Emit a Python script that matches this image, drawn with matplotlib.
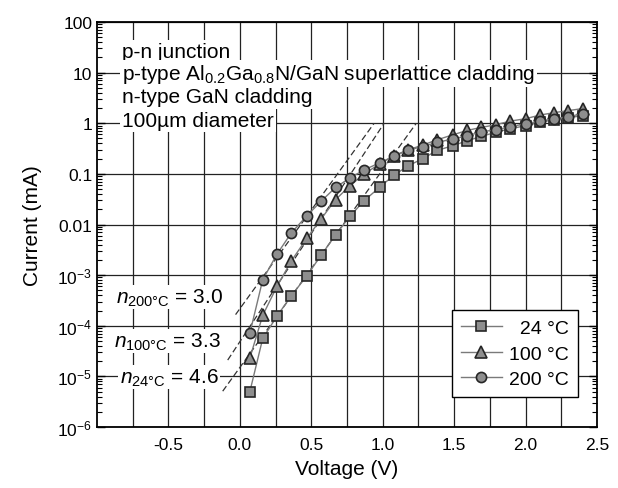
import numpy as np
import matplotlib
matplotlib.use("Agg")
import matplotlib.pyplot as plt
from matplotlib.ticker import FixedLocator, FixedFormatter, LogLocator, NullFormatter

plt.rcParams['font.family'] = ['Liberation Sans', 'DejaVu Sans']
plt.rcParams['mathtext.fontset'] = 'custom'
plt.rcParams['mathtext.rm'] = 'Liberation Sans'
plt.rcParams['mathtext.it'] = 'Liberation Sans:italic'

# data (voltage in V, current in mA)
voltage = [0.07, 0.16, 0.26, 0.36, 0.47, 0.57, 0.67, 0.77, 0.87, 0.98, 1.08, 1.18,
           1.28, 1.38, 1.49, 1.59, 1.69, 1.79, 1.89, 2.0, 2.1, 2.2, 2.3, 2.4]
i_24 = [5.0e-6, 5.6e-5, 1.55e-4, 3.9e-4, 9.8e-4, 2.5e-3, 6.2e-3, 1.45e-2, 2.95e-2, 5.5e-2,
        9.5e-2, 0.145, 0.20, 0.29, 0.36, 0.45, 0.55, 0.66, 0.78, 0.89, 1.05, 1.17, 1.29, 1.41]
i_100 = [2.3e-5, 1.6e-4, 6.0e-4, 1.9e-3, 5.4e-3, 1.3e-2, 3.1e-2, 5.8e-2, 0.10, 0.158,
         0.23, 0.30, 0.37, 0.47, 0.59, 0.72, 0.83, 0.93, 1.10, 1.23, 1.45, 1.62, 1.78, 1.95]
i_200 = [7.1e-5, 8.1e-4, 2.6e-3, 6.8e-3, 1.5e-2, 2.9e-2, 5.4e-2, 8.3e-2, 0.12, 0.166,
         0.224, 0.295, 0.347, 0.417, 0.49, 0.56, 0.68, 0.74, 0.85, 0.98, 1.10, 1.23, 1.35, 1.55]

# dashed ideality-factor fits (end points)
fit_v_24 = [-0.12, 1.235]
fit_i_24 = [5.1e-6, 1.0]
fit_v_100 = [-0.085, 1.01]
fit_i_100 = [2.1e-5, 1.0]
fit_v_200 = [-0.03, 0.94]
fit_i_200 = [1.66e-4, 1.0]

labels = ['\u200724 \u00b0C', '100 \u00b0C', '200 \u00b0C']
n_labels = ['$n_{\\rm 200°C}$ = 3.0', '$n_{\\rm 100°C}$ = 3.3', '$n_{\\rm 24°C}$ = 4.6']
ytick_vals = [1e-6, 1e-5, 1e-4, 1e-3, 1e-2, 1e-1, 1, 10, 100]
ytick_labels = ['10$^{-6}$', '10$^{-5}$', '10$^{-4}$', '10$^{-3}$', '0.01', '0.1', '1', '10', '100']
info_lines = ['p-n junction',
              'p-type Al$_{0.2}$Ga$_{0.8}$N/GaN superlattice cladding',
              'n-type GaN cladding',
              '100\u00b5m diameter']

fig = plt.figure(figsize=(6.18, 4.89), dpi=100)
ax = fig.add_axes([97/618, 61/489, 500/618, 405/489])

mk = dict(color='#7a7a7a', lw=1.0, mfc='#8e8e8e', mec='#262626', mew=1.2, zorder=4)
ax.plot(voltage, i_24, marker='s', ms=6.8, label=labels[0], **mk)
ax.plot(voltage, i_100, marker='^', ms=8.5, label=labels[1], **mk)
ax.plot(voltage, i_200, marker='o', ms=7.3, label=labels[2], **mk)

dash = dict(color='#333333', lw=0.9, ls=(0, (5, 2.5)), zorder=3)
ax.plot(fit_v_24, fit_i_24, **dash)
ax.plot(fit_v_100, fit_i_100, **dash)
ax.plot(fit_v_200, fit_i_200, **dash)

ax.set_yscale('log')
ax.set_xlim(-1.0, 2.5)
ax.set_ylim(1e-6, 100)

ax.xaxis.set_major_locator(FixedLocator([-0.5, 0.0, 0.5, 1.0, 1.5, 2.0, 2.5]))
ax.xaxis.set_minor_locator(FixedLocator([-0.75, -0.25, 0.25, 0.75, 1.25, 1.75, 2.25]))
ax.set_xticklabels(['-0.5', '0.0', '0.5', '1.0', '1.5', '2.0', '2.5'])
ax.yaxis.set_major_locator(FixedLocator(ytick_vals))
ax.yaxis.set_major_formatter(FixedFormatter(ytick_labels))
ax.yaxis.set_minor_locator(LogLocator(base=10, subs=np.arange(2, 10), numticks=20))
ax.yaxis.set_minor_formatter(NullFormatter())

ax.tick_params(axis='both', which='both', direction='in', labelsize=12.5, colors='black')
ax.tick_params(axis='y', which='major', length=6, width=1, right=True)
ax.tick_params(axis='y', which='minor', length=3.5, width=0.8, right=True)
ax.tick_params(axis='x', which='both', length=0, pad=7)

ax.grid(True, which='major', axis='y', color='#222222', lw=0.9)
ax.grid(True, which='both', axis='x', color='#222222', lw=0.9)
ax.set_axisbelow(True)
for s in ax.spines.values():
    s.set_linewidth(1.3)

ax.set_xlabel('Voltage (V)', fontsize=15, labelpad=5)
ax.set_ylabel('Current (mA)', fontsize=15, labelpad=11)

ys = [0.926, 0.872, 0.815, 0.758]
for y, t in zip(ys, info_lines):
    ax.text(0.05, y, t, transform=ax.transAxes, fontsize=15, va='center', ha='left', zorder=5,
            bbox=dict(facecolor='white', edgecolor='none', pad=1.5))

nb = dict(fontsize=15, va='center', ha='left', zorder=5,
          bbox=dict(facecolor='white', edgecolor='none', pad=1))
ax.text(-0.865, 10**-3.43, n_labels[0], **nb)
ax.text(-0.88, 10**-4.30, n_labels[1], **nb)
ax.text(-0.84, 10**-5.02, n_labels[2], **nb)

leg = ax.legend(loc='lower right', bbox_to_anchor=(0.962, 0.074), borderaxespad=0,
                fontsize=14, frameon=True, fancybox=False, framealpha=1,
                edgecolor='black', handlelength=2.1, handletextpad=0.4,
                labelspacing=0.42, borderpad=0.45)
leg.get_frame().set_linewidth(1.0)
leg.set_zorder(6)

fig.savefig('out.png', dpi=100)
